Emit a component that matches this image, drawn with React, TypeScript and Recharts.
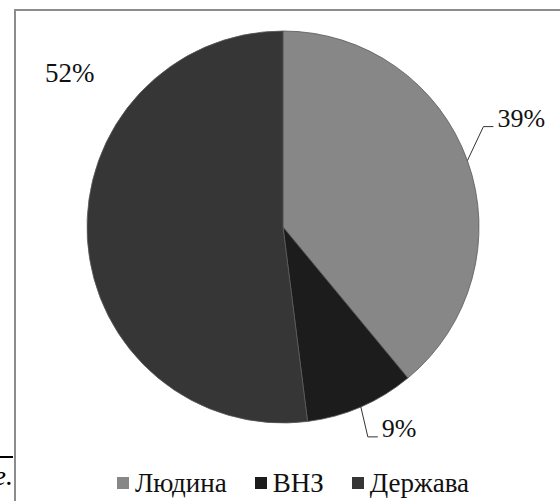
import React from 'react';
import { PieChart, Pie, Cell, Legend } from 'recharts';

const categories = ['Людина', 'ВНЗ', 'Держава'];
const shares = [39, 9, 52];
const colors = ['#878787', '#1c1c1c', '#363636'];

const data = categories.map((name, i) => ({ name, value: shares[i] }));

const FONT = 'Liberation Serif';
const RAD = Math.PI / 180;

const elbowOffsets: Array<[number, number] | null> = [[16, -34], [7, 30], null];

const renderLabel = (props: any) => {
  const { cx, cy, midAngle, outerRadius, percent, index } = props;
  const text = `${Math.round(percent * 100)}%`;
  const off = elbowOffsets[index];
  if (!off) {
    return (
      <text x={cx - 238} y={cy - 145} fontFamily={FONT} fontSize={27} fill="#111">
        {text}
      </text>
    );
  }
  const ex = cx + outerRadius * Math.cos(-midAngle * RAD);
  const ey = cy + outerRadius * Math.sin(-midAngle * RAD);
  const bx = ex + off[0];
  const by = ey + off[1];
  const endX = bx + 10;
  return (
    <g>
      <polyline points={`${ex},${ey} ${bx},${by} ${endX},${by}`} fill="none" stroke="#333" strokeWidth={1} />
      <text x={endX + 4} y={by} fontFamily={FONT} fontSize={26} fill="#111">
        {text}
      </text>
    </g>
  );
};

const renderLegend = () => (
  <div style={{ display: 'flex', alignItems: 'center', fontFamily: FONT, fontSize: 27, lineHeight: '26px', color: '#111', whiteSpace: 'nowrap' }}>
    {categories.map((name, i) => (
      <div key={name} style={{ display: 'flex', alignItems: 'center', marginRight: 28 }}>
        <span style={{ display: 'inline-block', width: 12, height: 12, background: colors[i], marginRight: 6 }} />
        <span>{name}</span>
      </div>
    ))}
  </div>
);

export default function App() {
  return (
    <div style={{ position: 'fixed', left: 0, top: 0, width: 560, height: 501, overflow: 'hidden', background: '#fff', fontFamily: FONT }}>
      <div style={{ position: 'absolute', left: 14, top: 9, width: 700, height: 700, border: '2px solid #8c8c8c', boxSizing: 'border-box' }} />
      <div style={{ position: 'absolute', left: 0, top: 456, width: 13, height: 2, background: '#000' }} />
      <div style={{ position: 'absolute', left: -40, top: 462, width: 53, textAlign: 'right', fontFamily: FONT, fontStyle: 'italic', fontSize: 28, lineHeight: '28px', color: '#000' }}>
        e.
      </div>
      <div style={{ position: 'absolute', left: 0, top: 0 }}>
        <PieChart width={560} height={501} margin={{ top: 0, right: 0, bottom: 0, left: 0 }}>
          <Pie
            data={data}
            dataKey="value"
            nameKey="name"
            cx={283}
            cy={227}
            outerRadius={196}
            startAngle={90}
            endAngle={-270}
            stroke="#5a5a5a"
            strokeWidth={0.8}
            label={renderLabel}
            labelLine={false}
            isAnimationActive={false}
          >
            {data.map((d, i) => (
              <Cell key={d.name} fill={colors[i]} />
            ))}
          </Pie>
          <Legend
            content={renderLegend}
            wrapperStyle={{ position: 'absolute', left: 117, top: 470, width: 'auto', height: 'auto', bottom: 'auto', fontFamily: FONT }}
          />
        </PieChart>
      </div>
    </div>
  );
}
